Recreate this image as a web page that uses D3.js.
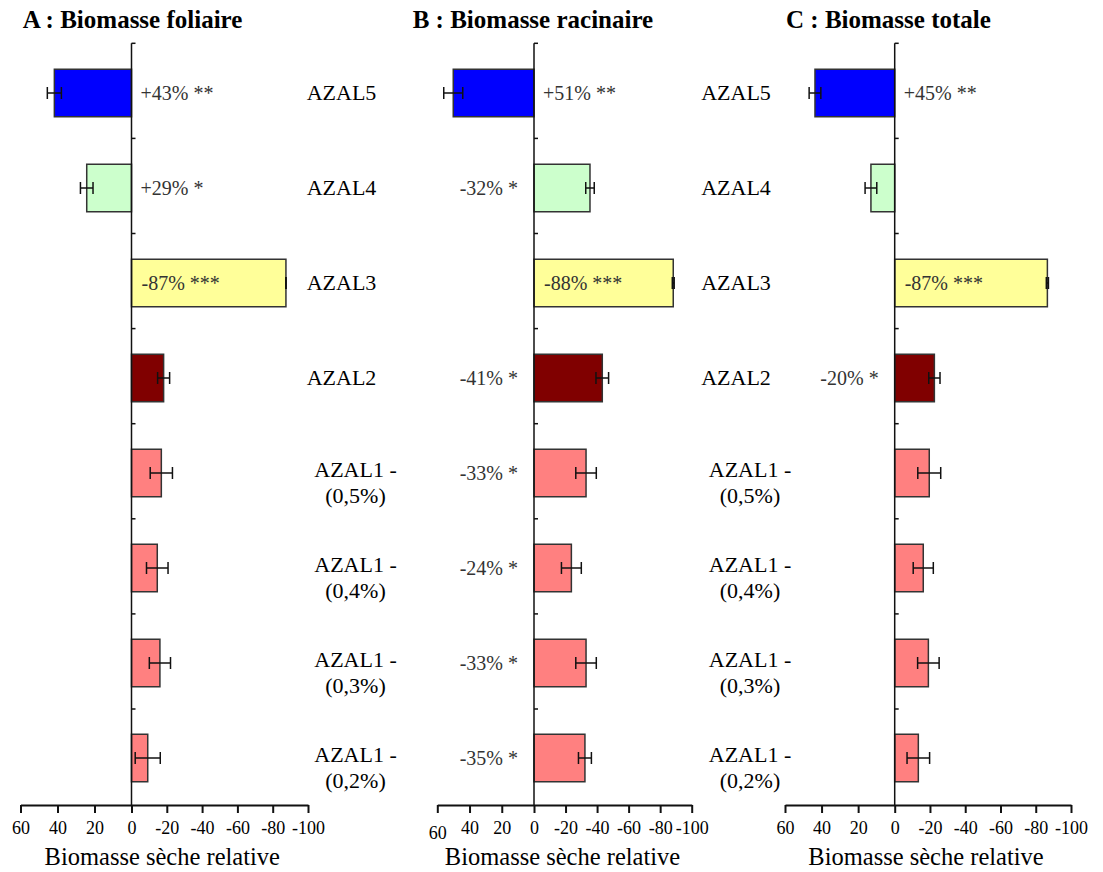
<!DOCTYPE html>
<html>
<head>
<meta charset="utf-8">
<script src="https://cdn.jsdelivr.net/npm/d3@7"></script>
<style>
  body { margin: 0; background: #fff; }
  svg, svg text { font-family: "Liberation Serif", Tinos, "Times New Roman", Times, "DejaVu Serif", serif; }
</style>
</head>
<body>
<div id="chart-container"></div>
<script>
const categories = [
  'AZAL5', 'AZAL4', 'AZAL3', 'AZAL2',
  'AZAL1 - (0,5%)', 'AZAL1 - (0,4%)', 'AZAL1 - (0,3%)', 'AZAL1 - (0,2%)',
];
const tickValues = [60, 40, 20, 0, -20, -40, -60, -80, -100];

// A : leaves
const leafValues = [41.7, 24.2, -87.5, -18.2, -16.9, -14.6, -16.1, -9.2];
const leafErrors = [3.8, 3.4, 0, 3.4, 6.3, 6.1, 6.0, 7.1];
const leafNotes = ['+43% **', '+29% *', '-87% ***', '', '', '', '', ''];

// B : roots
const rootValues = [50.1, -35.5, -88.3, -43.3, -33.0, -23.7, -33.0, -32.3];
const rootErrors = [5.9, 2.7, 0.6, 4.0, 6.5, 6.3, 6.5, 4.1];
const rootNotes = ['+51% **', '-32% *', '-88% ***', '-41% *', '-33% *', '-24% *', '-33% *', '-35% *'];

// C : total
const totalValues = [43.6, 13.0, -86.6, -22.5, -19.6, -16.2, -19.1, -13.4];
const totalErrors = [3.2, 3.2, 0.6, 3.2, 6.5, 5.7, 6.1, 6.4];
const totalNotes = ['+45% **', '', '-87% ***', '-20% *', '', '', '', ''];

const barColors = ['#0000ff', '#ccffcc', '#ffff99', '#800000', '#ff8080', '#ff8080', '#ff8080', '#ff8080'];

const width = 1103;
const height = 872;
const axisY = 805;
const topY = 43.3;

const panels = [
  {
    title: 'A : Biomasse foliaire', values: leafValues, errors: leafErrors, notes: leafNotes,
    range: [20.5, 131.5, 308], titleX: 22.7, labelDx: [210, 224],
  },
  {
    title: 'B : Biomasse racinaire', values: rootValues, errors: rootErrors, notes: rootNotes,
    range: [437.3, 534, 691.7], titleX: 412.7, labelDx: [202, 216], lowFirstTick: true,
  },
  {
    title: 'C : Biomasse totale', values: totalValues, errors: totalErrors, notes: totalNotes,
    range: [785, 894.7, 1071], titleX: 786, labelDx: null,
  },
];

const svg = d3
  .select('#chart-container')
  .append('svg')
  .attr('width', width)
  .attr('height', height);

svg.append('rect').attr('width', width).attr('height', height).attr('fill', '#fff');

const yBand = d3
  .scaleBand()
  .domain(categories)
  .range([45.5, 805.5])
  .paddingInner(0.5)
  .paddingOuter(0.25);

const yTick = d3.scaleLinear().domain([0, categories.length]).range([topY, 804.1]);

const cy = (i) => yBand(categories[i]) + yBand.bandwidth() / 2;

const drawPanel = (panel) => {
  const x = d3.scaleLinear().domain([60, 0, -100]).range(panel.range);
  const x0 = x(0);
  const g = svg.append('g');

  // Title
  g.append('text')
    .attr('x', panel.titleX)
    .attr('y', 28)
    .style('font-size', '25px')
    .style('font-weight', 'bold')
    .text(panel.title);

  // Bottom axis
  const axis = g
    .append('g')
    .attr('transform', `translate(0, ${axisY})`)
    .call(
      d3.axisBottom(x)
        .tickValues(tickValues)
        .tickFormat((d) => String(d))
        .tickSize(8)
        .tickSizeOuter(0)
        .tickPadding(8),
    );
  axis.attr('font-family', null);
  axis.select('.domain').attr('stroke', '#111').attr('stroke-width', 2);
  axis.selectAll('.tick line').attr('stroke', '#111').attr('stroke-width', 2);
  axis.selectAll('.tick text')
    .style('font-size', '18px')
    .attr('fill', '#000');
  if (panel.lowFirstTick) {
    axis.selectAll('.tick text').filter((d) => d === 60).attr('y', 21);
  }

  g.append('text')
    .attr('x', (panel.range[0] + panel.range[2]) / 2 - 2)
    .attr('y', 865)
    .attr('text-anchor', 'middle')
    .style('font-size', '24.5px')
    .text('Biomasse sèche relative');

  // Bars
  g.selectAll('.bar')
    .data(panel.values)
    .enter()
    .append('rect')
    .attr('class', 'bar')
    .attr('x', (d) => Math.min(x(d), x0))
    .attr('y', (_, i) => yBand(categories[i]))
    .attr('width', (d) => Math.abs(x(d) - x0))
    .attr('height', yBand.bandwidth())
    .attr('fill', (_, i) => barColors[i])
    .attr('stroke', '#333')
    .attr('stroke-width', 1.5);

  // Error bars
  const err = g.selectAll('.err')
    .data(panel.values)
    .enter()
    .append('g')
    .attr('class', 'err')
    .attr('stroke', '#111')
    .attr('stroke-width', 1.5);
  err.append('line')
    .attr('x1', (d, i) => x(d - panel.errors[i]))
    .attr('x2', (d, i) => x(d + panel.errors[i]))
    .attr('y1', (_, i) => cy(i))
    .attr('y2', (_, i) => cy(i));
  [-1, 1].forEach((s) => {
    err.append('line')
      .attr('x1', (d, i) => x(d + s * panel.errors[i]))
      .attr('x2', (d, i) => x(d + s * panel.errors[i]))
      .attr('y1', (_, i) => cy(i) - 6)
      .attr('y2', (_, i) => cy(i) + 6);
  });

  // Vertical axis with inner ticks
  g.append('line')
    .attr('x1', x0).attr('x2', x0)
    .attr('y1', topY).attr('y2', axisY)
    .attr('stroke', '#111')
    .attr('stroke-width', 1.5);
  g.selectAll('.ytick')
    .data(d3.range(categories.length))
    .enter()
    .append('line')
    .attr('x1', x0).attr('x2', x0 + 4)
    .attr('y1', (i) => yTick(i))
    .attr('y2', (i) => yTick(i))
    .attr('stroke', '#111')
    .attr('stroke-width', 1.5);

  // Percent notes: right of the axis for gains, inside long bars, left otherwise
  const notes = panel.notes
    .map((text, i) => ({ text, i, v: panel.values[i] }))
    .filter((d) => d.text !== '');
  g.selectAll('.note')
    .data(notes)
    .enter()
    .append('text')
    .attr('class', 'note')
    .attr('x', (d) => {
      if (d.v > 0) return x0 + 9;
      if (d.v < -60) return x0 + 10;
      return x0 - 16;
    })
    .attr('y', (d) => cy(d.i) + 7)
    .attr('text-anchor', (d) => (d.v < 0 && d.v >= -60 ? 'end' : 'start'))
    .attr('fill', '#333')
    .style('font-size', '20px')
    .text((d) => d.text);

  // Category labels
  if (panel.labelDx) {
    const labels = g.selectAll('.cat')
      .data(categories)
      .enter()
      .append('text')
      .attr('text-anchor', 'middle')
      .style('font-size', '22px')
      .attr('fill', '#000');
    labels.each(function (d, i) {
      const lines = d.split(' (');
      const t = d3.select(this);
      if (lines.length === 1) {
        t.append('tspan').attr('x', x0 + panel.labelDx[0]).attr('y', cy(i) + 7).text(d);
      } else {
        t.append('tspan').attr('x', x0 + panel.labelDx[1]).attr('y', cy(i) + 4).text(lines[0]);
        t.append('tspan').attr('x', x0 + panel.labelDx[1]).attr('y', cy(i) + 30).text(`(${lines[1]}`);
      }
    });
  }
};

panels.forEach(drawPanel);
</script>
</body>
</html>
